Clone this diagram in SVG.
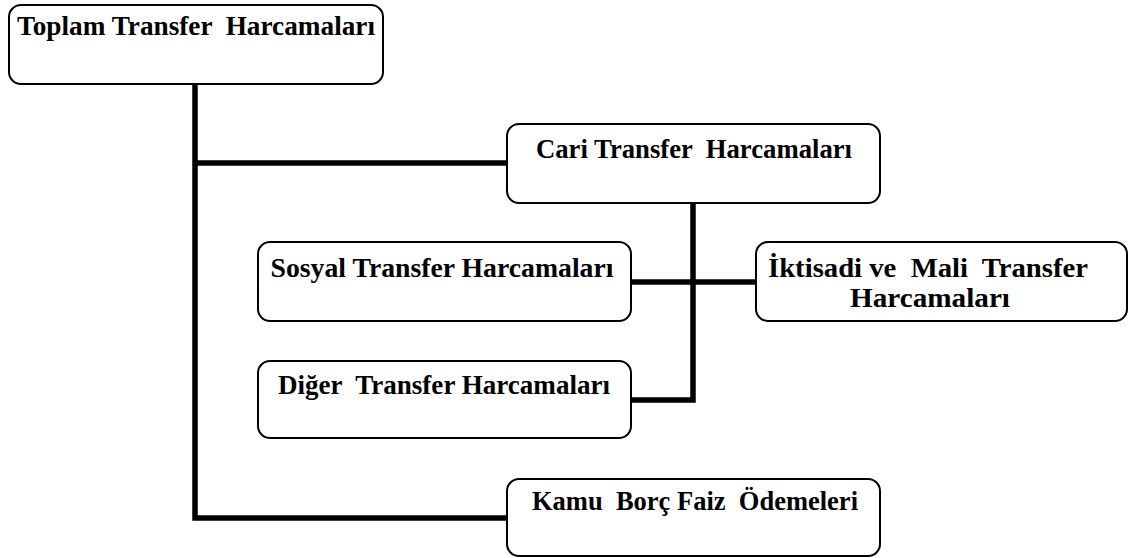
<svg xmlns="http://www.w3.org/2000/svg" width="1135" height="558" viewBox="0 0 1135 558">
<style>
.box{fill:#fff;stroke:#000;stroke-width:2}
.t{font-family:"Liberation Serif","Times New Roman",serif;font-weight:bold;font-size:28px;fill:#000;text-anchor:middle;white-space:pre}
.c{fill:none;stroke:#000;stroke-width:5.5;stroke-linecap:butt;stroke-linejoin:miter}
</style>
<rect width="1135" height="558" fill="#fff"/>
<g id="connectors">
<path class="c" d="M195,84 V518 H507"/>
<path class="c" d="M195,163 H507"/>
<path class="c" d="M693,203 V400 H631"/>
<path class="c" d="M631,282 H756"/>
</g>
<g id="toplam">
<rect class="box" x="9" y="5" width="374" height="79" rx="12"/>
<text class="t" x="196" y="35" textLength="358" lengthAdjust="spacingAndGlyphs" xml:space="preserve">Toplam Transfer  Harcamaları</text>
</g>
<g id="cari">
<rect class="box" x="507" y="124" width="373" height="79" rx="12"/>
<text class="t" x="694" y="158" textLength="316" lengthAdjust="spacingAndGlyphs" xml:space="preserve">Cari Transfer  Harcamaları</text>
</g>
<g id="sosyal">
<rect class="box" x="258" y="242" width="373" height="79" rx="12"/>
<text class="t" x="442" y="277" textLength="343" lengthAdjust="spacingAndGlyphs">Sosyal Transfer Harcamaları</text>
</g>
<g id="iktisadi">
<rect class="box" x="756" y="242" width="371" height="79" rx="12"/>
<text class="t" x="928" y="277" textLength="320" lengthAdjust="spacingAndGlyphs" xml:space="preserve">İktisadi ve  Mali  Transfer</text>
<text class="t" x="930" y="307" textLength="160" lengthAdjust="spacingAndGlyphs">Harcamaları</text>
</g>
<g id="diger">
<rect class="box" x="258" y="361" width="373" height="77" rx="12"/>
<text class="t" x="444" y="394" textLength="332" lengthAdjust="spacingAndGlyphs" xml:space="preserve">Diğer  Transfer Harcamaları</text>
</g>
<g id="kamu">
<rect class="box" x="507" y="479" width="373" height="77" rx="12"/>
<text class="t" x="695" y="510" textLength="326" lengthAdjust="spacingAndGlyphs" xml:space="preserve">Kamu  Borç Faiz  Ödemeleri</text>
</g>
</svg>
